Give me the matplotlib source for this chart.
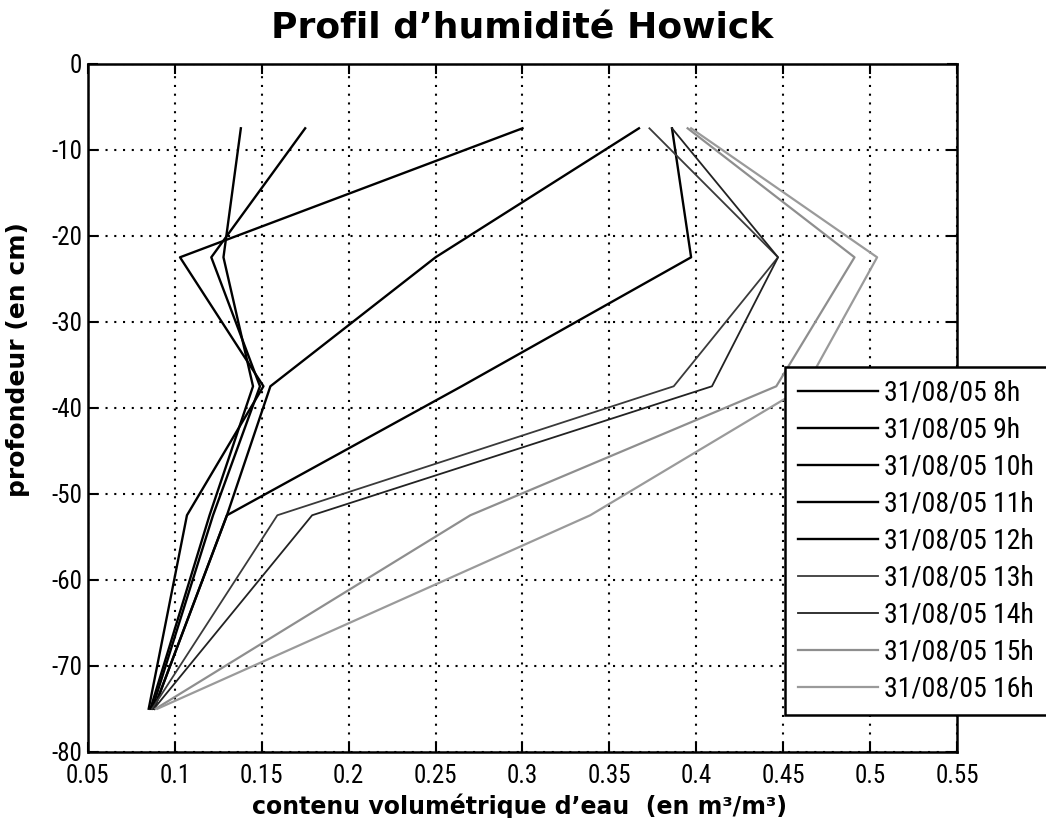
import numpy as np
import matplotlib
matplotlib.use('Agg')
import matplotlib.pyplot as plt

plt.rcParams['font.family'] = ['Roboto Condensed', 'Liberation Sans Narrow', 'Liberation Sans', 'DejaVu Sans']
plt.rcParams['axes.unicode_minus'] = False

# profondeurs des sondes (cm)
depths = [-7.5, -22.5, -37.5, -52.5, -75]

# teneur en eau volumique, une liste par heure
h8 = [0.138, 0.128, 0.145, 0.120, 0.086]
h9 = [0.175, 0.121, 0.149, 0.122, 0.087]
h10 = [0.300, 0.103, 0.151, 0.107, 0.085]
h11 = [0.367, 0.250, 0.155, 0.130, 0.088]
h12 = [0.386, 0.397, 0.265, 0.130, 0.088]
h13 = [0.373, 0.447, 0.387, 0.159, 0.087]
h14 = [0.386, 0.447, 0.409, 0.179, 0.088]
h15 = [0.395, 0.491, 0.446, 0.270, 0.089]
h16 = [0.397, 0.504, 0.463, 0.339, 0.090]

series = [h8, h9, h10, h11, h12, h13, h14, h15, h16]
labels = ['31/08/05 8h', '31/08/05 9h', '31/08/05 10h', '31/08/05 11h', '31/08/05 12h',
          '31/08/05 13h', '31/08/05 14h', '31/08/05 15h', '31/08/05 16h']
colors = ['#000000', '#000000', '#000000', '#000000', '#000000',
          '#3a3a3a', '#222222', '#8e8e8e', '#9a9a9a']
widths = [1.7, 1.7, 1.7, 1.7, 1.7, 1.3, 1.3, 1.6, 1.6]

xticks = [0.05, 0.1, 0.15, 0.2, 0.25, 0.3, 0.35, 0.4, 0.45, 0.5, 0.55]
xlabels = ['0.05', '0.1', '0.15', '0.2', '0.25', '0.3', '0.35', '0.4', '0.45', '0.5', '0.55']
yticks = [0, -10, -20, -30, -40, -50, -60, -70, -80]

bold = ['DejaVu Sans']

fig = plt.figure(figsize=(10.46, 8.18), dpi=100)
ax = fig.add_axes([0.084, 0.081, 0.831, 0.841])

for vals, lab, c, w in zip(series, labels, colors, widths):
    ax.plot(vals, depths, color=c, lw=w, label=lab)

ax.set_xlim(0.05, 0.55)
ax.set_ylim(-80, 0)
ax.set_xticks(xticks)
ax.set_xticklabels(xlabels)
ax.set_yticks(yticks)
ax.tick_params(direction='in', length=7, width=1.5, top=True, right=True, labelsize=18)
ax.tick_params(axis='x', pad=9)
ax.tick_params(axis='y', pad=4)
for s in ax.spines.values():
    s.set_linewidth(1.8)
ax.grid(True, color='black', linestyle=(0, (1, 3.2)), linewidth=1.5)

ax.set_title("Profil d\u2019humidit\u00e9 Howick", fontsize=26, fontweight='bold',
             family=bold, pad=18)
ax.set_xlabel("contenu volum\u00e9trique d\u2019eau  (en m\u00b3/m\u00b3)", fontsize=17,
              fontweight='bold', family=bold)
ax.set_ylabel("profondeur (en cm)", fontsize=18, fontweight='bold', family=bold)
ax.xaxis.set_label_coords(0.496, -0.06)
ax.yaxis.set_label_coords(-0.066, 0.57)

leg = ax.legend(loc='upper left', bbox_to_anchor=(785 / 1046, 1 - 713 / 818, 300 / 1046, 346 / 818),
                bbox_transform=fig.transFigure, mode='expand', fontsize=20, frameon=True,
                fancybox=False, framealpha=1, edgecolor='black', borderaxespad=0,
                handlelength=2.9, handletextpad=0.2, labelspacing=0.36,
                borderpad=0.45)
leg.get_frame().set_linewidth(1.8)

fig.savefig('out.png', dpi=100)
